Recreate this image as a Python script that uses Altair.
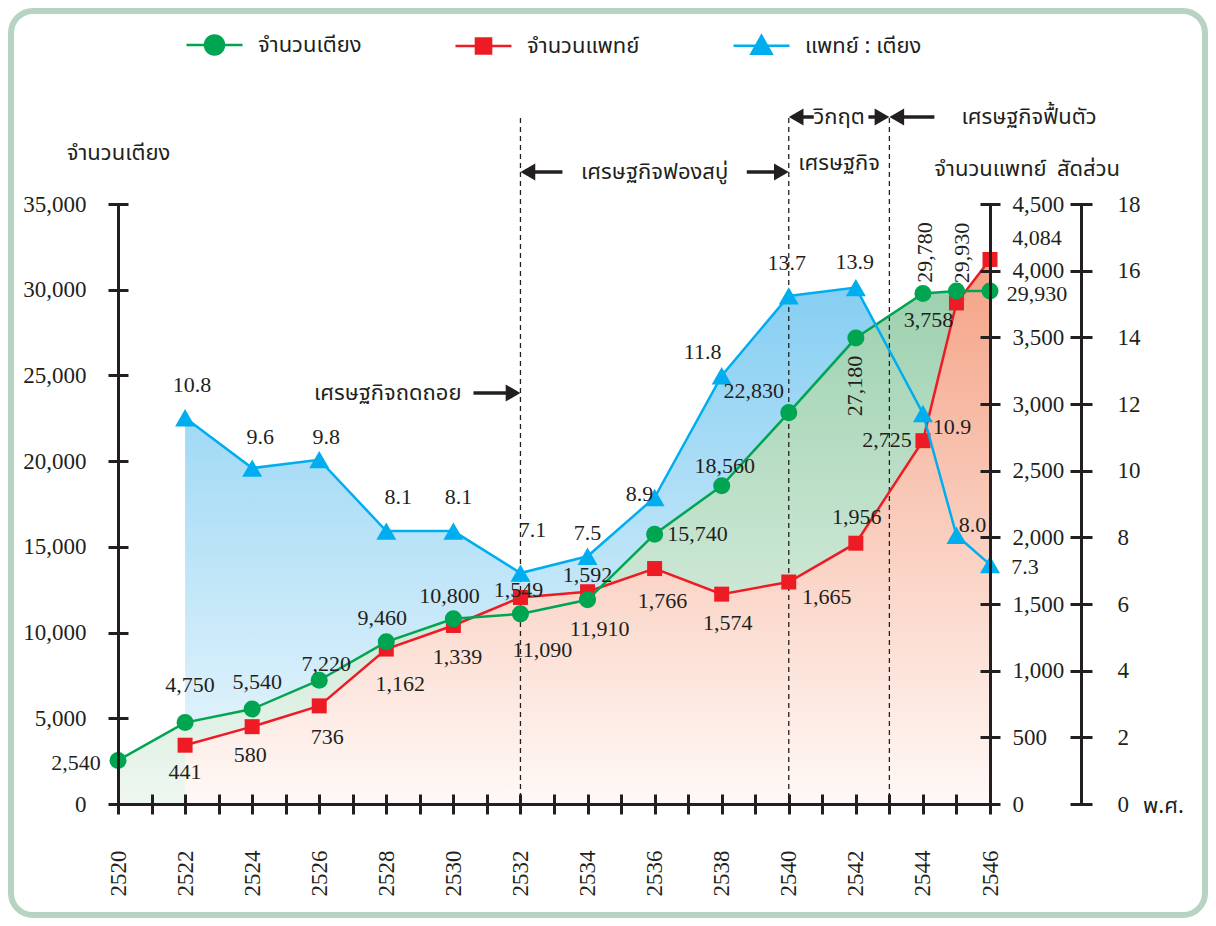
import altair as alt
import pandas as pd
import numpy as np

# ---------------- data ----------------
years = [2520, 2522, 2524, 2526, 2528, 2530, 2532, 2534, 2536, 2538, 2540, 2542, 2544, 2545, 2546]
beds = [2540, 4750, 5540, 7220, 9460, 10800, 11090, 11910, 15740, 18560, 22830, 27180, 29780, 29930, 29930]
doctors = [None, 441, 580, 736, 1162, 1339, 1549, 1592, 1766, 1574, 1665, 1956, 2725, 3758, 4084]
ratio = [None, 10.8, 9.6, 9.8, 8.1, 8.1, 7.1, 7.5, 8.9, 11.8, 13.7, 13.9, 10.9, 8.0, 7.3]

series_names = ["จำนวนเตียง", "จำนวนแพทย์", "แพทย์ : เตียง"]
bed_ticks = [0, 5000, 10000, 15000, 20000, 25000, 30000, 35000]
doctor_ticks = [0, 500, 1000, 1500, 2000, 2500, 3000, 3500, 4000, 4500]
ratio_ticks = [0, 2, 4, 6, 8, 10, 12, 14, 16, 18]
year_ticks = list(range(2520, 2547))
period_bounds = [2532, 2540, 2543]

annotation_texts = ["เศรษฐกิจถดถอย", "เศรษฐกิจฟองสบู่", "วิกฤต", "เศรษฐกิจ", "เศรษฐกิจฟื้นตัว"]
annotation_anchor = [2532, 2536, 2541.5, 2541.5, 2543]

# ---------------- layout (pixels) ----------------
W, H = 872, 600
PXY = W / 26.0
INK = "#231f20"
SERIF = "Liberation Serif"
THAI = "Noto Sans Thai, Noto Sans Thai UI, Loma, Garuda, Norasi, Noto Sans, sans-serif"
GREEN, RED, BLUE = "#00a551", "#ed1c24", "#00aeef"

# label offsets relative to the point (px)
bed_dx = [-42, 5, 5, 7, -4, -4, 22, 12, 43, 3, -35, -1, 2, 6, 47]
bed_dy = [3, -38, -27, -16, -24, -23, 36, 29, 0, -20, -22, 48, -41, -38, 3]
bed_rot = [0, 0, 0, 0, 0, 0, 0, 0, 0, 0, 0, 1, 1, 1, 0]
doc_dx = [0, 0, -2, 8, 14, 4, -2, 0, 8, 6, 38, 1, -36, -28, 47]
doc_dy = [0, 27, 28, 31, 35, 32, -7, -17, 32, 29, 15, -26, -1, 17, -21]
rat_dx = [0, 7, 8, 7, 12, 5, 12, 0, -15, -19, -2, -1, 29, 16, 35]
rat_dy = [0, -33, -31, -23, -34, -34, -43, -23, -3, -24, -33, -26, 13, -10, 2]

ann_dx = [-59, 0, 0, 0, 72]
ann_y = [189, -32, -87, -41, -87]
ann_align = ["right", "center", "center", "center", "left"]

arrow_b = [2532, 2532, 2540, 2540, 2543, 2543]
arrow_dir = [1, -1, 1, -1, 1, -1]   # 1 = points right, -1 = points left
arrow_len = [47, 42, 42, 25, 21, 45]
arrow_y = [189, -32, -32, -87, -87, -87]

# ---------------- scales ----------------
x_scale = alt.Scale(domain=[2520, 2546], nice=False, zero=False)
beds_scale = alt.Scale(domain=[0, 35000], nice=False)
doc_scale = alt.Scale(domain=[0, 4500], nice=False)
ratio_axis_scale = alt.Scale(domain=[0, 18], nice=False)
RLO, RHI = 1.6, 15.89
ratio_plot_scale = alt.Scale(domain=[RLO, RHI], nice=False, zero=False)


def X(field):
    return alt.X(f"{field}:Q", scale=x_scale, axis=None)


df = pd.DataFrame({"year": years, "beds": beds, "doctors": doctors, "ratio": ratio})


def grad(c0, c1):
    return alt.Gradient(gradient="linear",
                        stops=[alt.GradientStop(color=c0, offset=0), alt.GradientStop(color=c1, offset=1)],
                        x1=0, x2=0, y1=1, y2=0)


# panel border
bg = alt.Chart(pd.DataFrame({"a": [0]})).mark_rect(
    fill="transparent", stroke="#b7d3c1", strokeWidth=6, cornerRadius=22
).encode(x=alt.value(-107), x2=alt.value(W + 215), y=alt.value(-193), y2=alt.value(H + 111))

base = alt.Chart(df)
blue_area = base.transform_filter("isValid(datum.ratio)").mark_area(color=grad("#eef8fd", "#86cef2")).encode(
    x=X("year"), y=alt.Y("ratio:Q", scale=ratio_plot_scale, axis=None), y2=alt.datum(RLO))
green_area = base.mark_area(color=grad("#eef7f0", "#9dd1af")).encode(
    x=X("year"), y=alt.Y("beds:Q", scale=beds_scale, axis=None))
red_area = base.transform_filter("isValid(datum.doctors)").mark_area(color=grad("#fff9f7", "#f4a285")).encode(
    x=X("year"), y=alt.Y("doctors:Q", scale=doc_scale, axis=None))

rules = alt.Chart(pd.DataFrame({"b": period_bounds})).mark_rule(
    strokeDash=[5, 4], color=INK, strokeWidth=1.3
).encode(x=X("b"), y=alt.value(-86), y2=alt.value(H))

red_line = base.transform_filter("isValid(datum.doctors)").mark_line(color=RED, strokeWidth=2.5).encode(
    x=X("year"), y=alt.Y("doctors:Q", scale=doc_scale, axis=None))
red_pts = base.transform_filter("isValid(datum.doctors)").mark_point(
    shape="square", filled=True, color=RED, size=225, opacity=1).encode(
    x=X("year"), y=alt.Y("doctors:Q", scale=doc_scale, axis=None))
green_line = base.mark_line(color=GREEN, strokeWidth=2.5).encode(
    x=X("year"), y=alt.Y("beds:Q", scale=beds_scale, axis=None))
green_pts = base.mark_point(shape="circle", filled=True, color=GREEN, size=290, opacity=1).encode(
    x=X("year"), y=alt.Y("beds:Q", scale=beds_scale, axis=None))
blue_line = base.transform_filter("isValid(datum.ratio)").mark_line(color=BLUE, strokeWidth=2.5).encode(
    x=X("year"), y=alt.Y("ratio:Q", scale=ratio_plot_scale, axis=None))
blue_pts = base.transform_filter("isValid(datum.ratio)").mark_point(
    shape="triangle-up", filled=True, color=BLUE, size=400, opacity=1).encode(
    x=X("year"), y=alt.Y("ratio:Q", scale=ratio_plot_scale, axis=None))

# ---------------- value labels ----------------
px = np.array(years, dtype=float)
bed_lab = pd.DataFrame({
    "lx": px + np.array(bed_dx) / PXY,
    "ly": np.array(beds, dtype=float) - np.array(bed_dy) * 35000 / H,
    "v": beds, "rot": bed_rot})
doc_vals = np.array([np.nan if v is None else v for v in doctors], dtype=float)
doc_lab = pd.DataFrame({
    "lx": px + np.array(doc_dx) / PXY,
    "ly": doc_vals - np.array(doc_dy) * 4500 / H,
    "v": doc_vals}).dropna()
rat_vals = np.array([np.nan if v is None else v for v in ratio], dtype=float)
rat_lab = pd.DataFrame({
    "lx": px + np.array(rat_dx) / PXY,
    "ly": rat_vals - np.array(rat_dy) * (RHI - RLO) / H,
    "v": rat_vals}).dropna()

TXT = dict(font=SERIF, fontSize=22, color=INK, align="center", baseline="middle")
bed_text = alt.Chart(bed_lab).transform_filter("datum.rot == 0").mark_text(**TXT).encode(
    x=X("lx"), y=alt.Y("ly:Q", scale=beds_scale, axis=None), text=alt.Text("v:Q", format=",d"))
bed_text_rot = alt.Chart(bed_lab).transform_filter("datum.rot == 1").mark_text(angle=270, **TXT).encode(
    x=X("lx"), y=alt.Y("ly:Q", scale=beds_scale, axis=None), text=alt.Text("v:Q", format=",d"))
doc_text = alt.Chart(doc_lab).mark_text(**TXT).encode(
    x=X("lx"), y=alt.Y("ly:Q", scale=doc_scale, axis=None), text=alt.Text("v:Q", format=",d"))
rat_text = alt.Chart(rat_lab).mark_text(**TXT).encode(
    x=X("lx"), y=alt.Y("ly:Q", scale=ratio_plot_scale, axis=None), text=alt.Text("v:Q", format=".1f"))

# ---------------- annotations ----------------
ann = pd.DataFrame({"t": annotation_texts,
                    "tx": np.array(annotation_anchor) + np.array(ann_dx) / PXY,
                    "y": ann_y, "al": ann_align})
ann_layers = []
for al in ["right", "center", "left"]:
    ann_layers.append(
        alt.Chart(ann).transform_filter(f"datum.al == '{al}'").mark_text(
            font=THAI, fontSize=22, color=INK, align=al, baseline="middle").encode(
            x=X("tx"), y=alt.Y("y:Q", scale=None, axis=None), text="t:N"))

arr = pd.DataFrame({"b": arrow_b, "s": arrow_dir, "L": arrow_len, "y": arrow_y})
arr["x1"] = arr["b"] - arr["s"] * 6 / PXY
arr["x2"] = arr["b"] - arr["s"] * arr["L"] / PXY
arr["hx"] = arr["b"] - arr["s"] * 7.4 / PXY
shafts = alt.Chart(arr).mark_rule(color=INK, strokeWidth=3.5).encode(
    x=X("x1"), x2="x2:Q", y=alt.Y("y:Q", scale=None, axis=None))
heads_r = alt.Chart(arr).transform_filter("datum.s == 1").mark_point(
    shape="triangle-right", filled=True, color=INK, size=289, opacity=1).encode(
    x=X("hx"), y=alt.Y("y:Q", scale=None, axis=None))
heads_l = alt.Chart(arr).transform_filter("datum.s == -1").mark_point(
    shape="triangle-left", filled=True, color=INK, size=289, opacity=1).encode(
    x=X("hx"), y=alt.Y("y:Q", scale=None, axis=None))

# ---------------- axes ----------------
AX = dict(grid=False, zindex=1, domainColor=INK, domainWidth=3, tickColor=INK, tickWidth=3,
          labelFont=SERIF, labelColor=INK, titleFont=THAI, titleFontSize=22,
          titleFontWeight="normal", titleColor=INK, labelOverlap=False)


def yaxis(tick_values, scale, **kw):
    return alt.Chart(pd.DataFrame({"t": tick_values})).mark_point(opacity=0).encode(
        y=alt.Y("t:Q", scale=scale, axis=alt.Axis(values=tick_values, labelFontSize=23, **AX, **kw)))


left_main = yaxis(bed_ticks, beds_scale, orient="left", format=",d", domain=True, ticks=False,
                  labelPadding=32, title="จำนวนเตียง", titleAngle=0, titleX=0, titleY=-52,
                  titleAlign="center", titleBaseline="middle")
left_tick = yaxis(bed_ticks, beds_scale, orient="left", offset=-10, tickSize=20, domain=False,
                  labels=False, title=None)
doc_main = yaxis(doctor_ticks, doc_scale, orient="right", format=",d", domain=True, ticks=False,
                 labelPadding=22, title="จำนวนแพทย์", titleAngle=0, titleX=0, titleY=-36,
                 titleAlign="center", titleBaseline="middle")
doc_tick = yaxis(doctor_ticks, doc_scale, orient="right", offset=-10, tickSize=20, domain=False,
                 labels=False, title=None)
rat_main = yaxis(ratio_ticks, ratio_axis_scale, orient="right", offset=91, format="d", domain=True,
                 ticks=False, labelPadding=36, title="สัดส่วน", titleAngle=0, titleX=7, titleY=-36,
                 titleAlign="center", titleBaseline="middle")
rat_tick = yaxis(ratio_ticks, ratio_axis_scale, orient="right", offset=80, tickSize=22, domain=False,
                 labels=False, title=None)

ydf = pd.DataFrame({"yr": year_ticks})
x_main = alt.Chart(ydf).mark_point(opacity=0).encode(
    x=alt.X("yr:Q", scale=x_scale, axis=alt.Axis(
        orient="bottom", values=year_ticks, format="d",
        labelExpr="datum.value % 2 == 0 ? datum.label : ''",
        labelAngle=270, labelPadding=46, labelFontSize=23, domain=True, ticks=False,
        title="พ.ศ.", titleX=1045, titleY=1, titleAngle=0, titleAlign="center", titleBaseline="middle",
        **AX)))
x_tick = alt.Chart(ydf).mark_point(opacity=0).encode(
    x=alt.X("yr:Q", scale=x_scale, axis=alt.Axis(
        orient="bottom", values=year_ticks, offset=-10, tickSize=20, domain=False, labels=False,
        title=None, **AX)))

# ---------------- legend ----------------
ang = np.linspace(0, 2 * np.pi, 28, endpoint=False)
circ = "M" + " L".join(f"{0.34*np.cos(a):.3f},{0.34*np.sin(a):.3f}" for a in ang) + " Z"
legend_paths = [
    "M-1,0 L1,0 " + circ,
    "M-1,0 L1,0 M-0.27,-0.27 L0.27,-0.27 L0.27,0.27 L-0.27,0.27 Z",
    "M-1,0 L1,0 M0,-0.36 L0.36,0.28 L-0.36,0.28 Z",
]
LEG = alt.Legend(orient="none", legendX=67, legendY=-189, direction="horizontal", title=None,
                 symbolSize=3136, symbolStrokeWidth=2.5, symbolOpacity=1, labelFont=THAI,
                 labelFontSize=22, labelColor=INK, labelOffset=14, columnPadding=88, padding=0,
                 labelLimit=300)
leg_df = pd.DataFrame({"series": series_names})
legend_layer = alt.Chart(leg_df).mark_point(filled=True, opacity=0, strokeWidth=2.5).encode(
    fill=alt.Fill("series:N", scale=alt.Scale(domain=series_names, range=[GREEN, RED, BLUE]), legend=LEG),
    stroke=alt.Stroke("series:N", scale=alt.Scale(domain=series_names, range=[GREEN, RED, BLUE]), legend=LEG),
    shape=alt.Shape("series:N", scale=alt.Scale(domain=series_names, range=legend_paths), legend=LEG),
)

chart = alt.layer(
    bg, blue_area, green_area, red_area, rules,
    red_line, red_pts, green_line, green_pts, blue_line, blue_pts,
    bed_text, bed_text_rot, doc_text, rat_text,
    *ann_layers, shafts, heads_r, heads_l,
    left_main, left_tick, doc_main, doc_tick, rat_main, rat_tick, x_main, x_tick,
    legend_layer,
).resolve_scale(y="independent").resolve_axis(x="independent", y="independent").properties(
    width=W, height=H,
    autosize=alt.AutoSizeParams(type="none"),
    padding={"left": 110, "top": 196, "right": 218, "bottom": 114},
).configure(background="white").configure_view(strokeWidth=0)

chart.save("out.html", embed_options={"renderer": "svg", "actions": False})
